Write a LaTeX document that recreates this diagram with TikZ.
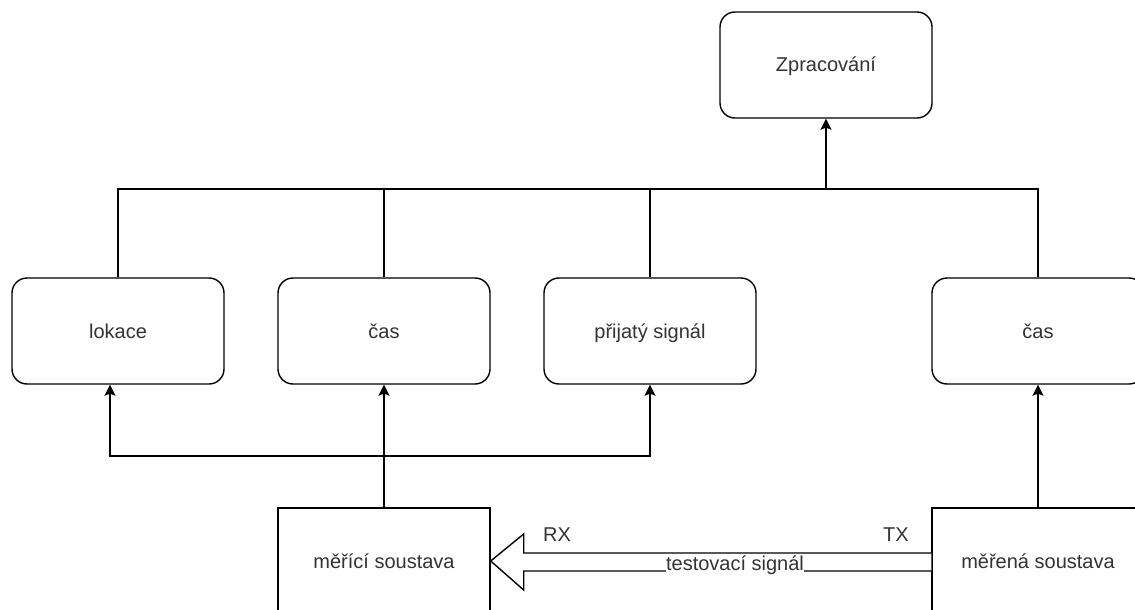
\documentclass[tikz,border=0pt]{standalone}
\usepackage{fontspec}
\setmainfont{Liberation Sans}
\usetikzlibrary{arrows.meta,calc}
\definecolor{txt}{HTML}{333333}
\tikzset{
  rbox/.style={draw=black, line width=1.4pt, rounded corners=15pt, minimum width=212pt, minimum height=106pt, inner sep=0pt, text height=16pt, text depth=2pt, text=txt, font=\fontsize{20}{24}\selectfont},
  sbox/.style={draw=black, line width=1.4pt, minimum width=212pt, minimum height=106pt, inner sep=0pt, text height=16pt, text depth=2pt, text=txt, font=\fontsize{20}{24}\selectfont},
  conn/.style={line width=1.4pt},
  arr/.style={line width=1.4pt, -{Stealth[length=11pt,width=11pt,inset=2pt]}},
  lbl/.style={text=txt, font=\fontsize{20}{24}\selectfont, inner sep=1pt}
}
\begin{document}
\begin{tikzpicture}[x=1pt,y=-1pt]
\useasboundingbox (0,0) rectangle (1135,610);
\clip (0,0) rectangle (1135,610);
\fill[white] (0,0) rectangle (1135,610);
\node[rbox] (zpr) at (826,65) {Zpracování};
\node[rbox] (lok) at (118,331) {lokace};
\node[rbox] (cas1) at (384,331) {čas};
\node[rbox] (sig) at (650,331) {přijatý signál};
\node[rbox] (cas2) at (1038,331) {čas};
\node[sbox] (mer) at (384,561) {měřící soustava};
\node[sbox] (mrn) at (1038,561) {měřená soustava};
\coordinate (busM) at (826,189);
\coordinate (br) at (384,456);
% bus to Zpracování
\draw[conn] (lok.north) |- (busM) -| (cas2.north);
\draw[conn] (cas1.north) -- (cas1.north |- busM);
\draw[conn] (sig.north) -- (sig.north |- busM);
\draw[arr] (busM) -- (zpr.south);
% from měřicí soustava
\draw[arr] (mer.north) -- (cas1.south);
\draw[arr] (br) -| ($(lok.south)+(-8,0)$);
\draw[arr] (br) -| (sig.south);
\draw[arr] (mrn.north) -- (cas2.south);
% hollow arrow
\draw[line width=1.4pt, fill=white, line join=miter]
  ($(mrn.west)+(0,-8)$) -- ($(mer.east)+(33,-8)$) -- ($(mer.east)+(33,-27)$)
  -- (mer.east) -- ($(mer.east)+(33,29)$) -- ($(mer.east)+(33,10)$) -- ($(mrn.west)+(0,10)$);
\node[lbl, fill=white, inner sep=0pt] (ts) at (735,565) {testovací signál};
\node[lbl] (rx) at (557,535) {RX};
\node[lbl] (tx) at (896,535) {TX};
\end{tikzpicture}
\end{document}
